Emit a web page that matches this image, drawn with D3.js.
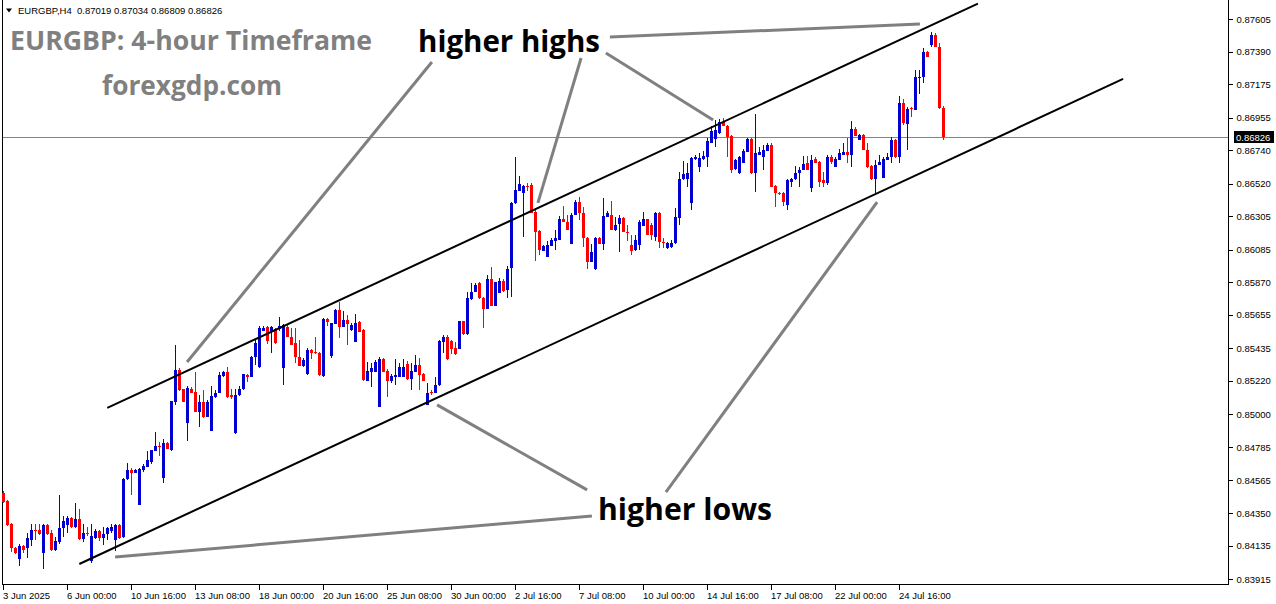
<!DOCTYPE html>
<html><head><meta charset="utf-8">
<script src="https://cdn.jsdelivr.net/npm/d3@7"></script>
<style>
html,body{margin:0;padding:0;background:#fff;}
svg{display:block;}
</style></head>
<body>
<svg id="c" width="1276" height="604"></svg>
<script>
// ---- data ----
const symbol = "EURGBP,H4";
const lastOHLC = [0.87019, 0.87034, 0.86809, 0.86826];
const currentPrice = 0.86826;
// H4 candles: [open, high, low, close]
const candles = [
[0.84482,0.84495,0.84416,0.84423],[0.84429,0.84436,0.84264,0.84271],[0.84278,0.84284,0.84093,0.84119],[0.84119,0.84126,0.84080,0.84086],
[0.84047,0.84146,0.83999,0.84132],[0.84132,0.84139,0.84086,0.84106],[0.84119,0.84218,0.84053,0.84185],[0.84172,0.84278,0.84132,0.84238],
[0.84238,0.84278,0.84172,0.84231],[0.84238,0.84278,0.84205,0.84211],[0.84086,0.84278,0.83981,0.84271],[0.84271,0.84278,0.84205,0.84211],
[0.84218,0.84238,0.84099,0.84106],[0.84106,0.84192,0.84099,0.84165],[0.84159,0.84469,0.84146,0.84251],[0.84251,0.84330,0.84192,0.84297],
[0.84271,0.84330,0.84218,0.84317],[0.84317,0.84324,0.84251,0.84258],[0.84258,0.84416,0.84251,0.84310],[0.84310,0.84376,0.84172,0.84179],
[0.84179,0.84278,0.84159,0.84218],[0.84218,0.84258,0.84198,0.84211],[0.84033,0.84278,0.84020,0.84198],[0.84185,0.84245,0.84179,0.84231],
[0.84231,0.84238,0.84165,0.84185],[0.84185,0.84258,0.84139,0.84211],[0.84211,0.84258,0.84172,0.84251],[0.84231,0.84278,0.84218,0.84258],
[0.84172,0.84278,0.84099,0.84271],[0.84271,0.84278,0.84179,0.84185],[0.84192,0.84580,0.84185,0.84574],[0.84574,0.84679,0.84567,0.84633],
[0.84633,0.84644,0.84469,0.84615],[0.84615,0.84642,0.84613,0.84633],[0.84403,0.84646,0.84403,0.84638],[0.84633,0.84673,0.84622,0.84659],
[0.84655,0.84760,0.84653,0.84699],[0.84688,0.84765,0.84673,0.84765],[0.84760,0.84884,0.84759,0.84792],[0.84792,0.84820,0.84726,0.84783],
[0.84578,0.84838,0.84550,0.84813],[0.84809,0.84815,0.84770,0.84770],[0.84765,0.85090,0.84760,0.85088],[0.85083,0.85459,0.85062,0.85292],
[0.85292,0.85303,0.85155,0.85160],[0.85167,0.85170,0.85081,0.85083],[0.84945,0.85187,0.84826,0.85171],[0.85167,0.85182,0.85141,0.85143],
[0.85149,0.85281,0.85016,0.85018],[0.85018,0.85127,0.84919,0.85083],[0.85083,0.85160,0.84976,0.84981],[0.84985,0.85095,0.84983,0.85083],
[0.84892,0.85187,0.84890,0.85121],[0.85112,0.85160,0.85108,0.85143],[0.85143,0.85281,0.85141,0.85259],[0.85253,0.85286,0.85246,0.85281],
[0.85281,0.85310,0.85108,0.85112],[0.85127,0.85165,0.85099,0.85112],[0.84875,0.85167,0.84870,0.85127],[0.85127,0.85187,0.85121,0.85165],
[0.85165,0.85266,0.85160,0.85264],[0.85259,0.85266,0.85215,0.85248],[0.85248,0.85385,0.85246,0.85376],[0.85376,0.85495,0.85325,0.85472],
[0.85310,0.85582,0.85307,0.85567],[0.85551,0.85582,0.85549,0.85571],[0.85578,0.85582,0.85464,0.85485],[0.85551,0.85582,0.85402,0.85574],
[0.85560,0.85569,0.85464,0.85472],[0.85560,0.85639,0.85549,0.85582],[0.85303,0.85595,0.85193,0.85589],[0.85578,0.85589,0.85510,0.85512],
[0.85512,0.85567,0.85455,0.85457],[0.85468,0.85567,0.85340,0.85380],[0.85380,0.85490,0.85319,0.85321],[0.85319,0.85369,0.85312,0.85358],
[0.85266,0.85435,0.85259,0.85424],[0.85424,0.85429,0.85363,0.85406],[0.85413,0.85512,0.85398,0.85402],[0.85402,0.85410,0.85253,0.85259],
[0.85253,0.85633,0.85246,0.85628],[0.85628,0.85633,0.85584,0.85611],[0.85385,0.85602,0.85373,0.85600],[0.85595,0.85692,0.85593,0.85688],
[0.85688,0.85742,0.85501,0.85578],[0.85578,0.85681,0.85576,0.85622],[0.85622,0.85655,0.85457,0.85595],[0.85556,0.85602,0.85549,0.85589],
[0.85479,0.85661,0.85477,0.85600],[0.85611,0.85614,0.85543,0.85545],[0.85556,0.85562,0.85220,0.85226],[0.85222,0.85347,0.85220,0.85286],
[0.85281,0.85340,0.85182,0.85303],[0.85281,0.85358,0.85279,0.85345],[0.85050,0.85380,0.85048,0.85365],[0.85365,0.85369,0.85279,0.85281],
[0.85288,0.85297,0.85116,0.85222],[0.85222,0.85266,0.85207,0.85253],[0.85248,0.85363,0.85193,0.85259],[0.85248,0.85336,0.85246,0.85310],
[0.85248,0.85363,0.85246,0.85314],[0.85332,0.85354,0.85226,0.85231],[0.85231,0.85336,0.85160,0.85288],[0.85281,0.85391,0.85279,0.85325],
[0.85325,0.85369,0.85160,0.85259],[0.85266,0.85274,0.85220,0.85222],[0.85062,0.85205,0.85060,0.85143],[0.85149,0.85160,0.85127,0.85139],
[0.85143,0.85248,0.85141,0.85193],[0.85191,0.85490,0.85187,0.85485],[0.85479,0.85523,0.85402,0.85512],[0.85512,0.85523,0.85358,0.85363],
[0.85485,0.85490,0.85398,0.85431],[0.85435,0.85479,0.85391,0.85398],[0.85431,0.85618,0.85429,0.85615],[0.85615,0.85618,0.85523,0.85529],
[0.85527,0.85808,0.85523,0.85769],[0.85758,0.85864,0.85753,0.85808],[0.85808,0.85864,0.85806,0.85852],[0.85867,0.85872,0.85760,0.85765],
[0.85769,0.85775,0.85567,0.85694],[0.85694,0.85918,0.85692,0.85892],[0.85892,0.85969,0.85714,0.85716],[0.85714,0.85872,0.85712,0.85870],
[0.85802,0.85896,0.85800,0.85879],[0.85879,0.85890,0.85806,0.85813],[0.85819,0.85980,0.85765,0.85958],[0.85962,0.86399,0.85771,0.86395],
[0.86391,0.86698,0.86386,0.86478],[0.86474,0.86571,0.86472,0.86518],[0.86461,0.86511,0.86171,0.86507],[0.86505,0.86526,0.86474,0.86496],
[0.86511,0.86522,0.86327,0.86329],[0.86335,0.86347,0.86012,0.86204],[0.86208,0.86215,0.86050,0.86083],[0.86078,0.86116,0.86076,0.86109],
[0.86039,0.86144,0.86037,0.86116],[0.86111,0.86162,0.86109,0.86149],[0.86144,0.86215,0.86083,0.86164],[0.86149,0.86307,0.86147,0.86287],
[0.86287,0.86373,0.86267,0.86269],[0.86269,0.86314,0.86213,0.86215],[0.86122,0.86325,0.86120,0.86314],[0.86314,0.86412,0.86312,0.86401],
[0.86401,0.86434,0.86281,0.86325],[0.86329,0.86368,0.86100,0.86164],[0.86164,0.86169,0.85958,0.86006],[0.86006,0.86120,0.86004,0.86072],
[0.85956,0.86169,0.85954,0.86160],[0.86160,0.86169,0.86120,0.86122],[0.86122,0.86424,0.86083,0.86307],[0.86302,0.86340,0.86300,0.86325],
[0.86314,0.86408,0.86213,0.86215],[0.86215,0.86302,0.86208,0.86248],[0.86254,0.86314,0.86072,0.86292],[0.86292,0.86302,0.86202,0.86204],
[0.86204,0.86248,0.86144,0.86197],[0.86116,0.86182,0.86050,0.86078],[0.86083,0.86182,0.86076,0.86149],[0.86116,0.86281,0.86083,0.86267],
[0.86241,0.86335,0.86239,0.86285],[0.86285,0.86290,0.86180,0.86182],[0.86248,0.86259,0.86149,0.86182],[0.86171,0.86335,0.86144,0.86329],
[0.86325,0.86330,0.86094,0.86138],[0.86138,0.86160,0.86094,0.86131],[0.86094,0.86136,0.86090,0.86127],[0.86105,0.86149,0.86094,0.86131],
[0.86127,0.86358,0.86122,0.86302],[0.86292,0.86599,0.86248,0.86549],[0.86549,0.86671,0.86544,0.86584],[0.86549,0.86654,0.86500,0.86592],
[0.86391,0.86698,0.86347,0.86687],[0.86681,0.86709,0.86676,0.86698],[0.86628,0.86720,0.86599,0.86691],[0.86681,0.86735,0.86676,0.86702],
[0.86694,0.86819,0.86628,0.86803],[0.86790,0.86900,0.86788,0.86869],[0.86812,0.86940,0.86764,0.86874],[0.86852,0.86946,0.86847,0.86924],
[0.86924,0.86951,0.86898,0.86900],[0.86900,0.86907,0.86694,0.86829],[0.86834,0.86841,0.86588,0.86610],[0.86615,0.86683,0.86610,0.86676],
[0.86588,0.86702,0.86584,0.86698],[0.86658,0.86749,0.86656,0.86737],[0.86731,0.86819,0.86729,0.86812],[0.86812,0.86819,0.86584,0.86588],
[0.86592,0.86977,0.86467,0.86724],[0.86709,0.86764,0.86707,0.86731],[0.86694,0.86775,0.86610,0.86742],[0.86737,0.86786,0.86735,0.86775],
[0.86775,0.86790,0.86498,0.86500],[0.86505,0.86511,0.86368,0.86457],[0.86461,0.86465,0.86445,0.86452],[0.86461,0.86463,0.86373,0.86401],
[0.86380,0.86549,0.86347,0.86544],[0.86533,0.86555,0.86500,0.86549],[0.86549,0.86638,0.86544,0.86592],[0.86588,0.86632,0.86500,0.86610],
[0.86610,0.86702,0.86608,0.86650],[0.86654,0.86702,0.86608,0.86610],[0.86490,0.86709,0.86467,0.86676],[0.86681,0.86698,0.86656,0.86658],
[0.86665,0.86668,0.86500,0.86533],[0.86544,0.86599,0.86500,0.86526],[0.86522,0.86709,0.86511,0.86698],[0.86698,0.86709,0.86650,0.86665],
[0.86632,0.86694,0.86630,0.86681],[0.86676,0.86747,0.86674,0.86724],[0.86709,0.86790,0.86707,0.86729],[0.86729,0.86819,0.86654,0.86711],
[0.86709,0.86935,0.86632,0.86878],[0.86878,0.86891,0.86832,0.86834],[0.86808,0.86847,0.86806,0.86841],[0.86841,0.86845,0.86740,0.86742],
[0.86742,0.86786,0.86621,0.86632],[0.86636,0.86643,0.86544,0.86549],[0.86549,0.86676,0.86457,0.86643],[0.86643,0.86709,0.86641,0.86665],
[0.86559,0.86698,0.86557,0.86681],[0.86676,0.86720,0.86674,0.86698],[0.86694,0.86829,0.86658,0.86808],[0.86808,0.86814,0.86689,0.86694],
[0.86694,0.87098,0.86658,0.87054],[0.87054,0.87076,0.86907,0.86918],[0.86913,0.87023,0.86742,0.87010],[0.87021,0.87023,0.86961,0.87010],
[0.87005,0.87269,0.87003,0.87225],[0.87214,0.87269,0.87111,0.87225],[0.87225,0.87412,0.87181,0.87390],[0.87390,0.87394,0.87355,0.87357],
[0.87434,0.87521,0.87423,0.87500],[0.87500,0.87515,0.87421,0.87423],[0.87423,0.87445,0.87012,0.87019],[0.87019,0.87034,0.86809,0.86826]
];
const xLabelIdx = [0,16,32,48,64,80,96,112,128,144,160,176,192,208,224];
const xLabels = ["3 Jun 2025","6 Jun 00:00","10 Jun 16:00","13 Jun 08:00","18 Jun 00:00","20 Jun 16:00","25 Jun 08:00","30 Jun 00:00","2 Jul 16:00","7 Jul 08:00","10 Jul 00:00","14 Jul 16:00","17 Jul 08:00","22 Jul 00:00","24 Jul 16:00"];
const yTicks = [0.87605,0.87390,0.87175,0.86955,0.86740,0.86520,0.86305,0.86085,0.85870,0.85655,0.85435,0.85220,0.85000,0.84785,0.84565,0.84350,0.84135,0.83915];
// channel lines in [barIndex, price]
const channelLines = [
  [[25.95,0.85042],[243.6,0.87706]],
  [[18.95,0.84014],[279.9,0.87210]]
];
// annotation pointers [barIndex, price]
const pointerLines = [
  [[107.1,0.87322],[45.9,0.85345]],
  [[144.4,0.87348],[133.6,0.86393]],
  [[151.6,0.87486],[229.1,0.87572]],
  [[150.6,0.87381],[177.4,0.86940]],
  [[145.9,0.84502],[108.4,0.85062]],
  [[165.6,0.84488],[218.4,0.86399]],
  [[147.1,0.84330],[27.9,0.84060]]
];
const notes = [
  {t:"EURGBP: 4-hour Timeframe", x:10, y:49.5, size:26.5, w:362, c:"#808080"},
  {t:"forexgdp.com", x:102, y:94.5, size:26.5, w:180, c:"#808080"},
  {t:"higher highs", x:418, y:52, size:30, w:182, c:"#000"},
  {t:"higher lows", x:598, y:520, size:30, w:174, c:"#000"}
];

// ---- drawing ----
const svg = d3.select("#c");
const plotL = 2, plotR = 1228, plotB = 584;
const x = d3.scaleLinear().domain([0, 235]).range([3.5, 943.5]);
const y = d3.scaleLinear().domain([0.83915, 0.87605]).range([579, 19]);
const BULL = "#0000d0", BEAR = "#ff0000";
const font = "'Liberation Sans', Arial, sans-serif";

// frame
svg.append("line").attr("x1",plotL+0.5).attr("x2",plotL+0.5).attr("y1",0).attr("y2",plotB+0.5).attr("stroke","#000").attr("shape-rendering","crispEdges");
svg.append("line").attr("x1",plotR+0.5).attr("x2",plotR+0.5).attr("y1",0).attr("y2",plotB+0.5).attr("stroke","#000").attr("shape-rendering","crispEdges");
svg.append("line").attr("x1",plotL).attr("x2",plotR+1).attr("y1",plotB+0.5).attr("y2",plotB+0.5).attr("stroke","#000").attr("shape-rendering","crispEdges");

// current price line
svg.append("line").attr("x1",plotL+1).attr("x2",plotR).attr("y1",Math.round(y(currentPrice))+0.5).attr("y2",Math.round(y(currentPrice))+0.5)
  .attr("stroke","#778899").attr("stroke-width",1).attr("shape-rendering","crispEdges");

// candles
const cg = svg.append("g").attr("shape-rendering","crispEdges");
cg.selectAll("line.w").data(candles).join("line").attr("class","w")
  .attr("x1",(d,i)=>x(i)).attr("x2",(d,i)=>x(i))
  .attr("y1",d=>y(d[1])).attr("y2",d=>y(d[2]))
  .attr("stroke",d=>d[3]>=d[0]?BULL:BEAR).attr("stroke-width",1);
cg.selectAll("rect.b").data(candles).join("rect").attr("class","b")
  .attr("x",(d,i)=>x(i)-1.5).attr("width",3)
  .attr("y",d=>y(Math.max(d[0],d[3])))
  .attr("height",d=>Math.max(1, Math.abs(y(d[0])-y(d[3]))))
  .attr("fill",d=>d[3]>=d[0]?BULL:BEAR);

// channel lines
const lineGen = d3.line().x(p=>x(p[0])).y(p=>y(p[1]));
svg.append("g").selectAll("path").data(channelLines).join("path")
  .attr("d",lineGen).attr("stroke","#000").attr("stroke-width",2).attr("fill","none");
svg.append("g").selectAll("path").data(pointerLines).join("path")
  .attr("d",lineGen).attr("stroke","#808080").attr("stroke-width",3).attr("fill","none");

// y axis
const yAxis = d3.axisRight(y).tickValues(yTicks).tickFormat(d3.format(".5f")).tickSize(4).tickPadding(4);
const ya = svg.append("g").attr("transform",`translate(${plotR+0.5},0)`).call(yAxis);
ya.select(".domain").remove();
ya.selectAll("text").attr("font-family",font).attr("font-size",9.5).attr("fill","#000");
ya.selectAll("line").attr("stroke","#000").attr("shape-rendering","crispEdges");

// x axis
const xAxis = d3.axisBottom(x).tickValues(xLabelIdx).tickFormat((d,i)=>xLabels[i]).tickSize(5).tickPadding(3);
const xa = svg.append("g").attr("transform",`translate(-1,${plotB+0.5})`).call(xAxis);
xa.select(".domain").remove();
xa.selectAll("text").attr("font-family",font).attr("font-size",9.5).attr("fill","#000").attr("text-anchor","start").attr("dx",0);
xa.selectAll("line").attr("stroke","#000").attr("shape-rendering","crispEdges");

// current price tag
const cy = Math.round(y(currentPrice))+0.5;
svg.append("rect").attr("x",plotR+6).attr("y",cy-6.5).attr("width",40).attr("height",12).attr("fill","#000");
svg.append("text").attr("x",plotR+8).attr("y",cy+3.5).attr("font-family",font).attr("font-size",9.5).attr("fill","#fff")
  .text(d3.format(".5f")(currentPrice));

// header
svg.append("path").attr("d","M6,8.5 L12,8.5 L9,12.5 Z").attr("fill","#000");
svg.append("text").attr("x",18).attr("y",14).attr("font-family",font).attr("font-size",9.5).attr("fill","#000")
  .attr("xml:space","preserve").text(symbol + "  " + lastOHLC.map(d3.format(".5f")).join(" "));

// notes
svg.append("g").selectAll("text").data(notes).join("text")
  .attr("x",d=>d.x).attr("y",d=>d.y).attr("font-family","'Open Sans', sans-serif").attr("font-weight","bold")
  .attr("font-size",d=>d.size).attr("fill",d=>d.c).attr("textLength",d=>d.w).attr("lengthAdjust","spacingAndGlyphs")
  .text(d=>d.t);
</script>
</body></html>
